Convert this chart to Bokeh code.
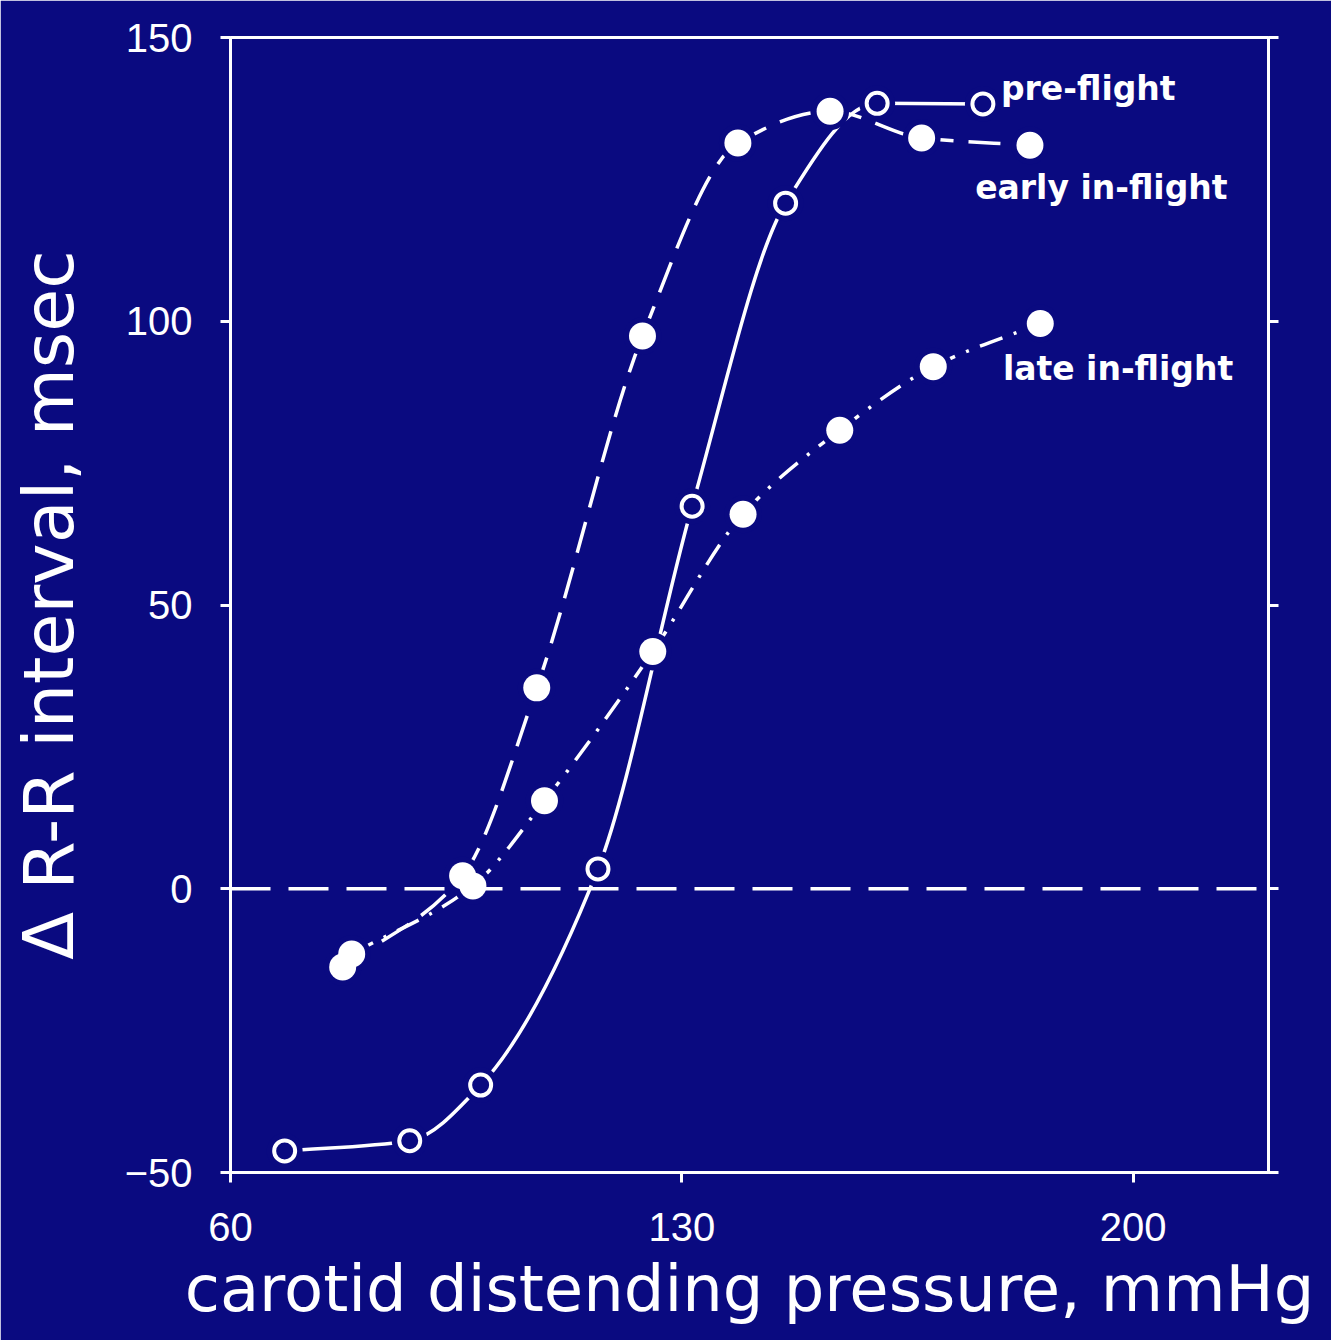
from bokeh.plotting import figure
from bokeh.models import Range1d, FixedTicker, LinearAxis, Span, Label
from bokeh.embed import file_html
from bokeh.resources import INLINE

# ---- data ----
pre_x = [68.4, 87.8, 98.8, 117.0, 131.6, 146.1, 160.3, 176.7]
pre_y = [-46.2, -44.4, -34.6, 3.5, 67.4, 120.8, 138.4, 138.3]

early_x = [77.4, 96.0, 107.5, 123.9, 138.7, 153.0, 167.2, 184.0]
early_y = [-13.8, 2.3, 35.4, 97.4, 131.4, 137.0, 132.3, 131.0]

late_x = [78.8, 97.6, 108.7, 125.5, 139.5, 154.5, 169.0, 185.6]
late_y = [-11.5, 0.5, 15.5, 41.8, 66.0, 80.8, 92.0, 99.6]

x_ticks = [60, 130, 200]
y_ticks = [-50, 0, 50, 100, 150]
series_names = ["pre-flight", "early in-flight", "late in-flight"]

BG = "#0a0a80"
FG = "#ffffff"

p = figure(width=1331, height=1340, output_backend="svg", toolbar_location=None,
           x_range=Range1d(60, 221), y_range=Range1d(-50, 150),
           min_border_left=230, min_border_right=63, min_border_top=37,
           min_border_bottom=168)
p.background_fill_color = BG
p.border_fill_color = BG
p.outline_line_color = FG
p.outline_line_width = 3
p.grid.visible = False

for ax in (p.xaxis[0], p.yaxis[0]):
    ax.axis_line_color = FG
    ax.axis_line_width = 3
    ax.major_tick_line_color = FG
    ax.major_tick_line_width = 3
    ax.major_tick_out = 10
    ax.major_tick_in = 0
    ax.minor_tick_line_color = None
    ax.major_label_text_color = FG
    ax.major_label_text_font = "Liberation Sans"
    ax.major_label_text_font_size = "40px"
    ax.axis_label_text_color = FG
    ax.axis_label_text_font = "DejaVu Sans"
    ax.axis_label_text_font_style = "normal"

p.xaxis.ticker = FixedTicker(ticks=x_ticks)
p.yaxis.ticker = FixedTicker(ticks=y_ticks)
p.xaxis.axis_label = "carotid distending pressure, mmHg"
p.yaxis.axis_label = "\u0394 R-R interval, msec"
p.xaxis.axis_label_text_font_size = "64px"
p.yaxis.axis_label_text_font_size = "70px"
p.xaxis.major_label_standoff = 30
p.yaxis.major_label_standoff = 28
p.xaxis.axis_label_standoff = 8
p.yaxis.axis_label_standoff = 32
p.yaxis.major_label_orientation = "horizontal"

right = LinearAxis(ticker=FixedTicker(ticks=y_ticks))
right.axis_line_color = FG
right.axis_line_width = 3
right.major_tick_line_color = FG
right.major_tick_line_width = 3
right.major_tick_out = 10
right.major_tick_in = 0
right.minor_tick_line_color = None
right.major_label_text_font_size = "0px"
right.major_label_text_color = None
p.add_layout(right, "right")

zero = Span(location=0, dimension="width", line_color=FG, line_width=3.5,
            line_dash="40 18")
p.add_layout(zero)


def monotone_bezier(xs, ys):
    n = len(xs)
    h = [xs[i + 1] - xs[i] for i in range(n - 1)]
    d = [(ys[i + 1] - ys[i]) / h[i] for i in range(n - 1)]
    m = [0.0] * n
    m[0] = d[0]
    m[-1] = d[-1]
    for i in range(1, n - 1):
        if d[i - 1] * d[i] <= 0:
            m[i] = 0.0
        else:
            w1 = 2 * h[i] + h[i - 1]
            w2 = h[i] + 2 * h[i - 1]
            m[i] = (w1 + w2) / (w1 / d[i - 1] + w2 / d[i])
    out = dict(x0=[], y0=[], x1=[], y1=[], cx0=[], cy0=[], cx1=[], cy1=[])
    for i in range(n - 1):
        out["x0"].append(xs[i]); out["y0"].append(ys[i])
        out["x1"].append(xs[i + 1]); out["y1"].append(ys[i + 1])
        out["cx0"].append(xs[i] + h[i] / 3.0)
        out["cy0"].append(ys[i] + m[i] * h[i] / 3.0)
        out["cx1"].append(xs[i + 1] - h[i] / 3.0)
        out["cy1"].append(ys[i + 1] - m[i + 1] * h[i] / 3.0)
    return out


styles = [
    (pre_x, pre_y, "solid", False),
    (early_x, early_y, "32 15", True),
    (late_x, late_y, "24 12 3 12", True),
]

for xs, ys, dash, filled in styles:
    b = monotone_bezier(xs, ys)
    p.bezier(x0=b["x0"], y0=b["y0"], x1=b["x1"], y1=b["y1"],
             cx0=b["cx0"], cy0=b["cy0"], cx1=b["cx1"], cy1=b["cy1"],
             line_color=FG, line_width=3.5, line_dash=dash)

for xs, ys, dash, filled in styles:
    p.scatter(xs, ys, size=38 if filled else 36, fill_color=BG, line_color=None)

for xs, ys, dash, filled in styles:
    if filled:
        p.scatter(xs, ys, size=27, fill_color=FG, line_color=None)
    else:
        p.scatter(xs, ys, size=21, fill_color=BG, line_color=FG, line_width=4)

label_pos = [(179.5, 141.0), (175.5, 123.5), (179.8, 91.7)]
for name, (lx, ly) in zip(series_names, label_pos):
    p.add_layout(Label(x=lx, y=ly, text=name, text_color=FG,
                       text_font="DejaVu Sans", text_font_style="bold",
                       text_font_size="33px", text_baseline="middle",
                       text_align="left"))

open("out.html", "w").write(file_html(p, INLINE))
